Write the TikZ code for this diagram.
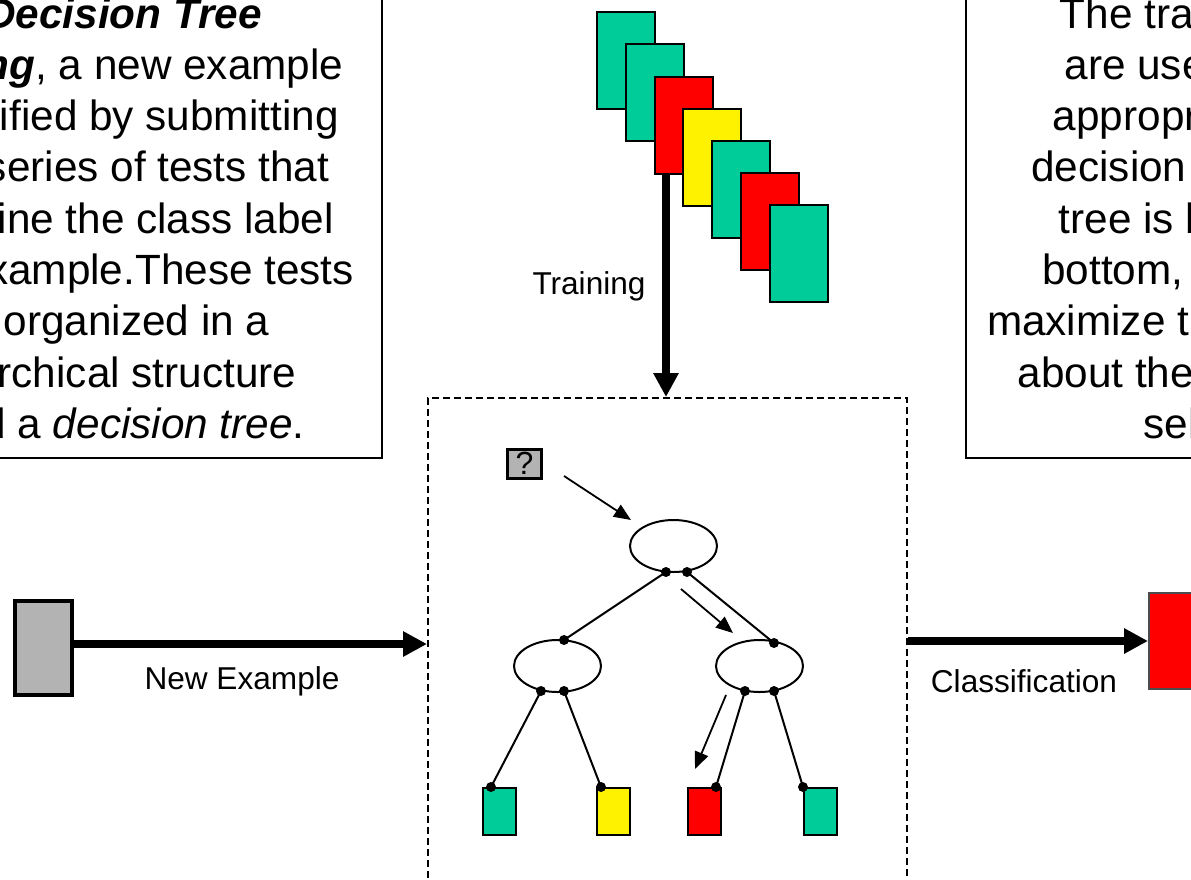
\documentclass[tikz,border=0pt]{standalone}
\usepackage{fontspec}
\setmainfont{Liberation Sans}
\usetikzlibrary{arrows.meta,shapes.geometric}
\definecolor{cgreen}{RGB}{0,204,153}
\definecolor{cgray}{RGB}{179,179,179}
\begin{document}
\begin{tikzpicture}[x=1pt,y=-1pt,
  card/.style={draw=black,line width=2.2pt,inner sep=0pt,minimum width=58pt,minimum height=97pt,anchor=north west},
  leaf/.style={draw=black,line width=2.2pt,inner sep=0pt,minimum width=33pt,minimum height=47pt,anchor=north west},
  tnode/.style={ellipse,draw=black,line width=2pt,inner sep=0pt,minimum width=87pt,minimum height=52pt},
  dotn/.style={circle,fill=black,inner sep=0pt,minimum size=10pt},
  bigarrow/.style={line width=8pt,-{Triangle[length=24pt,width=24pt]}},
  thinarrow/.style={line width=1.8pt,-{Triangle[length=17pt,width=14pt]}},
  edge/.style={line width=2pt},
  txt/.style={font=\fontsize{42.3}{51.4}\selectfont,inner sep=0pt,anchor=base},
  lbl/.style={font=\fontsize{31.6}{36}\selectfont,inner sep=0pt,anchor=base},
  textbox/.style={draw=black,line width=2pt,inner sep=0pt,anchor=south west},
  dashbox/.style={draw=black,line width=1.5pt,dash pattern=on 7pt off 4pt,inner sep=0pt,anchor=north west}
]
\clip (0,0) rectangle (1191,879);
\fill[white] (0,0) rectangle (1191,879);

% text boxes
\node[textbox,minimum width=581pt,minimum height=470pt] (lbox) at (-200,459) {};
\node[textbox,minimum width=500pt,minimum height=470pt] (rbox) at (965,459) {};

\node[txt] (l1) at (100,28) {In \textbf{\textit{Decision Tree}}};
\node[txt] (l2) at (100,79.3) {\textbf{\textit{Learning}}, a new example};
\node[txt] (l3) at (100,130.6) {is classified by submitting};
\node[txt] (l4) at (100,181.9) {it to a series of tests that};
\node[txt] (l5) at (100,233.2) {determine the class label};
\node[txt] (l6) at (100,284.5) {of the example.These tests};
\node[txt] (l7) at (100,335.8) {are organized in a};
\node[txt] (l8) at (100,387.1) {hierarchical structure};
\node[txt] (l9) at (100,438.4) {called a \textit{decision tree}.};

\node[txt] (r1) at (1268,28) {The training examples};
\node[txt] (r2) at (1268,79.3) {are used for choosing};
\node[txt] (r3) at (1268,130.6) {appropriate tests in the};
\node[txt] (r4) at (1268,181.9) {decision tree. Typically, a};
\node[txt] (r5) at (1268,233.2) {tree is built from top to};
\node[txt] (r6) at (1268,284.5) {bottom, where tests that};
\node[txt] (r7) at (1268,335.8) {maximize the information gain};
\node[txt] (r8) at (1268,387.1) {about the classification are};
\node[txt] (r9) at (1268,438.4) {selected first.};

% training cards
\node[card,fill=cgreen] (c1) at (596,11) {};
\node[card,fill=cgreen] (c2) at (624.5,43) {};
\node[card,fill=red] (c3) at (653.5,75.5) {};
\node[card,fill=yellow] (c4) at (682,107.5) {};
\node[card,fill=cgreen] (c5) at (711,140) {};
\node[card,fill=red] (c6) at (740,172) {};
\node[card,fill=cgreen] (c7) at (769,204) {};

% dashed frame
\node[dashbox,minimum width=479pt,minimum height=560pt] (dbox) at (427,397) {};

% training arrow
\coordinate (ts) at ([xshift=12.5pt]c3.south west);
\draw[bigarrow] (ts) -- (ts |- dbox.north);
\node[lbl] (trl) at (589,294) {Training};

% new example
\node[draw=black,line width=4pt,fill=cgray,inner sep=0pt,minimum width=57pt,minimum height=94pt,anchor=north west] (ex) at (13,599) {};
\coordinate (exs) at ([yshift=4pt]ex.east);
\draw[bigarrow] (exs) -- (exs -| dbox.west);
\node[lbl] (nel) at (242,689) {New Example};

% classification result
\node[draw=black!70,line width=2pt,fill=red,inner sep=0pt,minimum width=58pt,minimum height=96pt,anchor=north west] (res) at (1148,592) {};
\draw[bigarrow] (res.west -| dbox.east) -- (res.west);
\node[lbl] (cll) at (1024,692) {Classification};

% question example
\node[draw=black,line width=3pt,fill=cgray,inner sep=0pt,minimum width=34pt,minimum height=29pt,font=\fontsize{32}{32}\selectfont] (q) at (524.5,463.5) {?};

% tree nodes
\node[tnode] (root) at (673.5,546) {};
\node[tnode] (lc) at (557.5,666) {};
\node[tnode] (rc) at (759.5,666) {};

\node[leaf,fill=cgreen] (f1) at (482,787) {};
\node[leaf,fill=yellow] (f2) at (596,787) {};
\node[leaf,fill=red] (f3) at (687,787) {};
\node[leaf,fill=cgreen] (f4) at (803,787) {};

% edges
\node[dotn] (ra) at (666,572) {};
\node[dotn] (rb) at (687,572) {};
\node[dotn] (lt) at (564,640) {};
\node[dotn] (rt) at (774,643) {};
\node[dotn] (la) at (541,691) {};
\node[dotn] (lb) at (564,691) {};
\node[dotn] (rca) at (745,691) {};
\node[dotn] (rcb) at (774,691) {};
\node[dotn] (d1) at (491,787) {};
\node[dotn] (d2) at (601,787) {};
\node[dotn] (d3) at (716,787) {};
\node[dotn] (d4) at (803,787) {};

\draw[edge] (ra.center) -- (lt.center);
\draw[edge] (rb.center) -- (rt.center);
\draw[edge] (la.center) -- (d1.center);
\draw[edge] (lb.center) -- (d2.center);
\draw[edge] (rca.center) -- (d3.center);
\draw[edge] (rcb.center) -- (d4.center);

% path arrows
\coordinate (qa) at (564,476);
\coordinate (qb) at (631,520);
\draw[thinarrow] (qa) -- (qb);
\coordinate (pa1) at (681,589);
\coordinate (pa2) at (733,633);
\draw[thinarrow] (pa1) -- (pa2);
\coordinate (pb1) at (726,695);
\coordinate (pb2) at (695,769);
\draw[thinarrow] (pb1) -- (pb2);
\end{tikzpicture}
\end{document}
